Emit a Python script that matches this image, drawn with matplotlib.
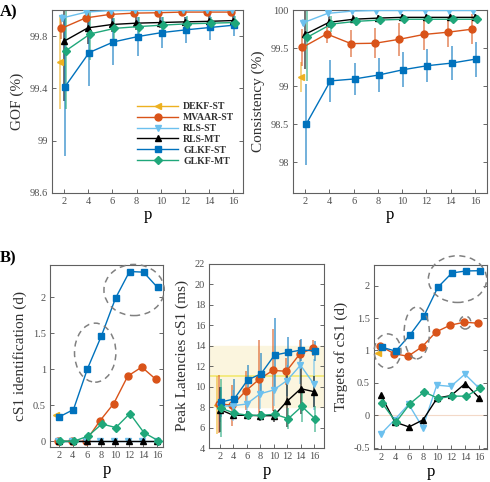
import numpy as np
import matplotlib
matplotlib.use('Agg')
import matplotlib.pyplot as plt
from matplotlib.patches import Ellipse

plt.rcParams['font.family'] = ['Liberation Serif', 'DejaVu Serif']
plt.rcParams['axes.edgecolor'] = '#606060'
plt.rcParams['xtick.color'] = '#505050'
plt.rcParams['ytick.color'] = '#505050'

p = np.array([2, 4, 6, 8, 10, 12, 14, 16])
methods = ['DEKF-ST', 'MVAAR-ST', 'RLS-ST', 'RLS-MT', 'GLKF-ST', 'GLKF-MT']
colors = ['#EDB120', '#D95319', '#6CC0EE', '#000000', '#0072BD', '#1FA77A']
markers = ['<', 'o', 'v', '^', 's', 'D']
nan = np.nan

# GOF (%) mean and std
gof = {
    'DEKF-ST':  [99.60, nan, nan, nan, nan, nan, nan, nan],
    'MVAAR-ST': [99.86, 99.94, 99.967, 99.977, 99.98, 99.985, 99.985, 99.985],
    'RLS-ST':   [99.94, 99.985, 99.997, 99.998, 99.998, 99.998, 99.998, 99.998],
    'RLS-MT':   [99.76, 99.864, 99.89, 99.90, 99.905, 99.91, 99.914, 99.92],
    'GLKF-ST':  [99.413, 99.675, 99.756, 99.797, 99.828, 99.849, 99.867, 99.885],
    'GLKF-MT':  [99.69, 99.818, 99.86, 99.874, 99.885, 99.895, 99.90, 99.905],
}
gof_err = {
    'DEKF-ST':  [0.36, nan, nan, nan, nan, nan, nan, nan],
    'MVAAR-ST': [0.08, 0.03, 0.02, 0.015, 0.01, 0.01, 0.01, 0.01],
    'RLS-ST':   [0.03, 0.01, 0.005, 0.005, 0.005, 0.005, 0.005, 0.005],
    'RLS-MT':   [0.46, 0.12, 0.06, 0.05, 0.04, 0.04, 0.04, 0.04],
    'GLKF-ST':  [0.53, 0.255, 0.18, 0.15, 0.12, 0.10, 0.095, 0.085],
    'GLKF-MT':  [0.45, 0.20, 0.08, 0.07, 0.06, 0.06, 0.05, 0.05],
}

# Consistency (%)
cons = {
    'DEKF-ST':  [99.12, nan, nan, nan, nan, nan, nan, nan],
    'MVAAR-ST': [99.51, 99.687, 99.56, 99.565, 99.617, 99.68, 99.71, 99.75],
    'RLS-ST':   [99.835, 99.957, 99.987, 99.995, 99.995, 99.995, 99.995, 99.995],
    'RLS-MT':   [99.68, 99.84, 99.88, 99.895, 99.905, 99.905, 99.905, 99.905],
    'GLKF-ST':  [98.50, 99.07, 99.096, 99.148, 99.217, 99.27, 99.304, 99.357],
    'GLKF-MT':  [99.643, 99.817, 99.852, 99.87, 99.88, 99.88, 99.88, 99.88],
}
cons_err = {
    'DEKF-ST':  [0.2, nan, nan, nan, nan, nan, nan, nan],
    'MVAAR-ST': [0.24, 0.12, 0.18, 0.2, 0.22, 0.2, 0.2, 0.2],
    'RLS-ST':   [0.05, 0.02, 0.01, 0.005, 0.005, 0.005, 0.005, 0.005],
    'RLS-MT':   [0.46, 0.08, 0.05, 0.04, 0.04, 0.04, 0.04, 0.04],
    'GLKF-ST':  [0.53, 0.28, 0.21, 0.22, 0.23, 0.22, 0.22, 0.23],
    'GLKF-MT':  [0.58, 0.1, 0.06, 0.05, 0.05, 0.05, 0.05, 0.05],
}

# cS1 identification (d)
ident = {
    'DEKF-ST':  [0.37, nan, nan, nan, nan, nan, nan, nan],
    'MVAAR-ST': [0, 0, 0, 0.28, 0.524, 0.905, 1.03, 0.86],
    'RLS-ST':   [0, 0, 0, 0, 0, 0, 0, 0],
    'RLS-MT':   [0, 0, 0, 0, 0, 0, 0, 0],
    'GLKF-ST':  [0.34, 0.44, 1.007, 1.466, 1.986, 2.357, 2.348, 2.135],
    'GLKF-MT':  [0, 0, 0.07, 0.24, 0.19, 0.385, 0.12, 0.01],
}

# Peak latencies cS1 (ms)
lat = {
    'DEKF-ST':  [8.2, nan, nan, nan, nan, nan, nan, nan],
    'MVAAR-ST': [8.3, 8.2, 9.6, 10.74, 11.59, 11.5, 13.19, 13.77],
    'RLS-ST':   [8.07, 8.14, 8.3, 9.3, 9.67, 10.6, 12.1, 10.25],
    'RLS-MT':   [7.75, 7.2, 7.2, 7.16, 7.16, 8.6, 9.8, 9.5],
    'GLKF-ST':  [8.5, 8.79, 10.65, 11.26, 13.09, 13.35, 13.58, 13.5],
    'GLKF-MT':  [7.9, 7.4, 7.2, 7.2, 7.3, 6.87, 8.07, 6.83],
}
lat_err = {
    'DEKF-ST':  [2.8, nan, nan, nan, nan, nan, nan, nan],
    'MVAAR-ST': [2.8, 2.0, 1.9, 3.8, 4.0, 1.3, 1.4, 0.8],
    'RLS-ST':   [1.5, 1.5, 1.4, 1.5, 1.6, 1.5, 1.8, 2.5],
    'RLS-MT':   [2.2, 0.4, 0.4, 0.5, 0.6, 2.5, 2.5, 1.5],
    'GLKF-ST':  [1.5, 2.0, 1.5, 2.0, 3.6, 1.5, 1.1, 1.0],
    'GLKF-MT':  [2.8, 0.5, 0.4, 0.4, 0.5, 1.0, 1.5, 1.3],
}

# Targets of cS1 (d)
targ = {
    'DEKF-ST':  [0.963, nan, nan, nan, nan, nan, nan, nan],
    'MVAAR-ST': [1.075, 0.95, 0.91, 1.055, 1.286, 1.389, 1.435, 1.42],
    'RLS-ST':   [-0.295, -0.07, 0.17, -0.19, 0.465, 0.445, 0.634, 0.42],
    'RLS-MT':   [0.31, -0.105, -0.18, -0.07, 0.265, 0.305, 0.49, 0.265],
    'GLKF-ST':  [1.05, 0.99, 1.234, 1.527, 1.974, 2.195, 2.226, 2.23],
    'GLKF-MT':  [0.19, -0.105, 0.18, 0.36, 0.26, 0.295, 0.295, 0.42],
}

top_off = [-0.32, -0.22, -0.15, -0.03, 0.08, 0.17]
bot_off = [-0.4, -0.15, -0.05, 0.0, 0.1, 0.15]

fig = plt.figure(figsize=(4.9, 4.82), dpi=100)


def style(ax, xlim, ylim, yticks, ylabel):
    ax.set_xlim(*xlim)
    ax.set_ylim(*ylim)
    ax.set_xticks(p)
    ax.set_yticks(yticks)
    ax.set_yticklabels([f'{t:g}' for t in yticks])
    ax.tick_params(direction='in', length=3, width=0.6, labelsize=7.5,
                   top=False, right=True, pad=3)
    for s in ax.spines.values():
        s.set_linewidth(0.8)
    ax.set_xlabel('p', fontsize=12, labelpad=1)
    ax.set_ylabel(ylabel, fontsize=11, color='#303030', labelpad=4)


def draw(ax, vals, errs, offs, ms=5):
    for i, m in enumerate(methods):
        x = p + offs[i]
        y = np.array(vals[m], dtype=float)
        if errs is not None:
            e = np.array(errs[m], dtype=float)
            ax.errorbar(x, y, yerr=e, fmt='none', ecolor=colors[i],
                        elinewidth=1.1, capsize=0, alpha=0.7, zorder=2)
        ax.plot(x, y, color=colors[i], marker=markers[i], lw=1.0,
                ms=ms if markers[i] != 'D' else ms - 1, label=m, zorder=3)


# A) GOF
ax1 = fig.add_axes([0.106, 0.600, 0.390, 0.379])
draw(ax1, gof, gof_err, top_off)
style(ax1, (1.0, 16.8), (98.6, 100.0), [98.6, 99, 99.4, 99.8], 'GOF (%)')
leg = ax1.legend(loc='lower right', bbox_to_anchor=(1.0, 0.1), frameon=False,
                 fontsize=7, handlelength=4.2, labelspacing=0.2,
                 handletextpad=0.5)
for t in leg.get_texts():
    t.set_fontweight('bold')
    t.set_color('#303030')

# A) Consistency
ax2 = fig.add_axes([0.598, 0.600, 0.396, 0.379])
draw(ax2, cons, cons_err, top_off)
style(ax2, (1.0, 17.0), (97.6, 100.0), [98, 98.5, 99, 99.5, 100], 'Consistency (%)')

ell_kw = dict(fill=False, ls=(0, (4, 3)), lw=1.1, ec='#808080', clip_on=False, zorder=5)

# B) identification
ax3 = fig.add_axes([0.102, 0.0726, 0.231, 0.378])
draw(ax3, ident, None, bot_off)
style(ax3, (0.75, 16.9), (-0.08, 2.45), [0, 0.5, 1, 1.5, 2], 'cS1 identification (d)')
ax3.add_patch(Ellipse((7.2, 1.23), 5.9, 0.82, **ell_kw))
ax3.add_patch(Ellipse((12.75, 2.1), 8.6, 0.71, **ell_kw))

# B) latencies
ax4 = fig.add_axes([0.427, 0.0705, 0.235, 0.382])
ax4.axhspan(8, 14, color='#FBF5DE', zorder=0)
ax4.axhline(11, color='#F2E870', lw=1.2, zorder=1)
draw(ax4, lat, lat_err, bot_off)
style(ax4, (0.4, 17.5), (4, 22), list(range(4, 23, 2)), 'Peak Latencies cS1 (ms)')

# B) targets
ax5 = fig.add_axes([0.763, 0.0685, 0.231, 0.382])
ax5.axhline(0, color='#F3D9C8', lw=0.8, zorder=1)
draw(ax5, targ, None, bot_off)
style(ax5, (1.0, 17.1), (-0.52, 2.32), [-0.5, 0, 0.5, 1, 1.5, 2], 'Targets of cS1 (d)')
ax5.add_patch(Ellipse((2.95, 0.99), 3.8, 0.53, **ell_kw))
ax5.add_patch(Ellipse((7.1, 1.27), 3.6, 0.8, **ell_kw))
ax5.add_patch(Ellipse((12.9, 2.1), 8.3, 0.72, **ell_kw))
ax5.add_patch(Ellipse((14.0, 1.43), 1.6, 0.2, **ell_kw))

fig.text(0.0, 0.965, 'A)', fontsize=12, fontweight='bold')
fig.text(0.0, 0.455, 'B)', fontsize=12, fontweight='bold')

fig.savefig('out.png', dpi=100)
